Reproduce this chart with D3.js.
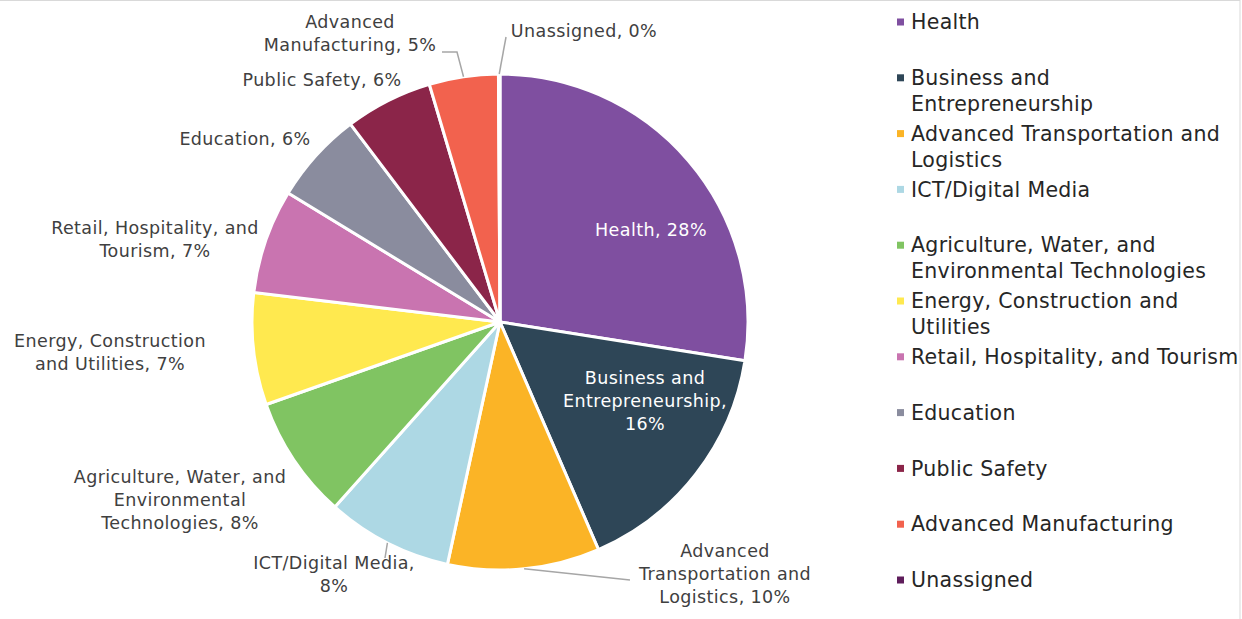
<!DOCTYPE html>
<html>
<head>
<meta charset="utf-8">
<script src="https://cdn.jsdelivr.net/npm/d3@7"></script>
<style>
  body { margin: 0; background: #fff; }
  svg { display: block; }
  text { font-family: "DejaVu Sans", "Noto Sans", sans-serif; }
</style>
</head>
<body>
<svg id="chart"></svg>
<script>
// data
let categories = ['Health', 'Business and Entrepreneurship', 'Advanced Transportation and Logistics',
  'ICT/Digital Media', 'Agriculture, Water, and Environmental Technologies',
  'Energy, Construction and Utilities', 'Retail, Hospitality, and Tourism', 'Education',
  'Public Safety', 'Advanced Manufacturing', 'Unassigned']
let shares = [27.5, 16.0, 9.9, 8.2, 8.0, 7.3, 6.8, 6.0, 5.7, 4.5, 0.1]
let colors = ['#7f4fa0', '#2e4657', '#fbb426', '#add8e4', '#80c462', '#ffe94f',
  '#c974b0', '#8a8c9e', '#8b2549', '#f2624e', '#5e1d5b']
// how the label text breaks ('' = line holding only the percent)
let labelLines = [['Health'], ['Business and', 'Entrepreneurship,', ''], ['Advanced', 'Transportation and', 'Logistics'],
  ['ICT/Digital Media,', ''], ['Agriculture, Water, and', 'Environmental', 'Technologies'],
  ['Energy, Construction', 'and Utilities'], ['Retail, Hospitality, and', 'Tourism'], ['Education'],
  ['Public Safety'], ['Advanced', 'Manufacturing'], ['Unassigned']]
let legendLines = [['Health'], ['Business and', 'Entrepreneurship'], ['Advanced Transportation and', 'Logistics'],
  ['ICT/Digital Media'], ['Agriculture, Water, and', 'Environmental Technologies'],
  ['Energy, Construction and', 'Utilities'], ['Retail, Hospitality, and Tourism'], ['Education'],
  ['Public Safety'], ['Advanced Manufacturing'], ['Unassigned']]

// layout: label block centre relative to pie centre, optional leader elbow/end
let labelLayout = [
  {dx: 151, dy: -92, inside: true},
  {dx: 145, dy: 79, inside: true},
  {dx: 225, dy: 252, leader: [[130, 258]]},
  {dx: -166, dy: 252, leader: [[-115, 236]]},
  {dx: -320, dy: 178},
  {dx: -390, dy: 30},
  {dx: -345, dy: -83},
  {dx: -255, dy: -183},
  {dx: -178, dy: -242},
  {dx: -150, dy: -289, leader: [[-43, -270], [-58, -270]]},
  {dx: 84, dy: -291, leader: [[6, -285]]}
]

let width = 1242
let height = 619
let cx = 500
let cy = 322
let radius = 248
let lineH = 23

let svg = d3.select('#chart').attr('width', width).attr('height', height)

let data = categories.map((c, i) => ({name: c, value: shares[i], i: i}))

let pie = d3.pie().value(d => d.value).sort(null)
let arcs = pie(data)
let arc = d3.arc().innerRadius(0).outerRadius(radius)

let g = svg.append('g').attr('transform', 'translate(' + cx + ',' + cy + ')')

g.selectAll('path.slice')
  .data(arcs)
  .enter()
  .append('path')
  .attr('class', 'slice')
  .attr('d', arc)
  .attr('fill', d => colors[d.data.i])
  .attr('stroke', '#fff')
  .attr('stroke-width', 3)
  .attr('stroke-linejoin', 'round')

// leader lines
arcs.forEach((a, i) => {
  let lay = labelLayout[i]
  if (!lay.leader) return
  let mid = (a.startAngle + a.endAngle) / 2
  let pts = [[Math.sin(mid) * radius, -Math.cos(mid) * radius]].concat(lay.leader)
  g.append('path')
    .attr('d', d3.line()(pts))
    .attr('fill', 'none')
    .attr('stroke', '#a6a6a6')
    .attr('stroke-width', 1.5)
})

// data labels
arcs.forEach((a, i) => {
  let lay = labelLayout[i]
  let pct = Math.round(a.data.value) + '%'
  let lines = labelLines[i].slice()
  let last = lines.length - 1
  lines[last] = lines[last] === '' ? pct : lines[last] + ', ' + pct
  let t = g.append('text')
    .attr('text-anchor', 'middle')
    .attr('font-size', 17.5)
    .attr('letter-spacing', 0.4)
    .attr('fill', lay.inside ? '#fff' : '#404040')
  let top = lay.dy - (lines.length - 1) * lineH / 2
  lines.forEach((l, k) => {
    t.append('tspan')
      .attr('x', lay.dx)
      .attr('y', top + k * lineH)
      .attr('dy', '0.35em')
      .text(l)
  })
})

// legend
let legend = svg.append('g').attr('transform', 'translate(897,22)')
let rowStep = 55.8
legendLines.forEach((lines, i) => {
  let row = legend.append('g').attr('transform', 'translate(0,' + (i * rowStep) + ')')
  row.append('rect')
    .attr('x', 0).attr('y', -3.5)
    .attr('width', 7).attr('height', 7)
    .attr('fill', colors[i])
  let t = row.append('text')
    .attr('font-size', 20.5)
    .attr('letter-spacing', 0.3)
    .attr('fill', '#262626')
  lines.forEach((l, k) => {
    t.append('tspan')
      .attr('x', 14)
      .attr('y', k * 26)
      .attr('dy', '0.35em')
      .text(l)
  })
})

// chart area border
svg.append('rect')
  .attr('x', -0.5).attr('y', 0.5)
  .attr('width', width - 1.5).attr('height', height + 2)
  .attr('fill', 'none').attr('stroke', '#d9d9d9')
</script>
</body>
</html>
